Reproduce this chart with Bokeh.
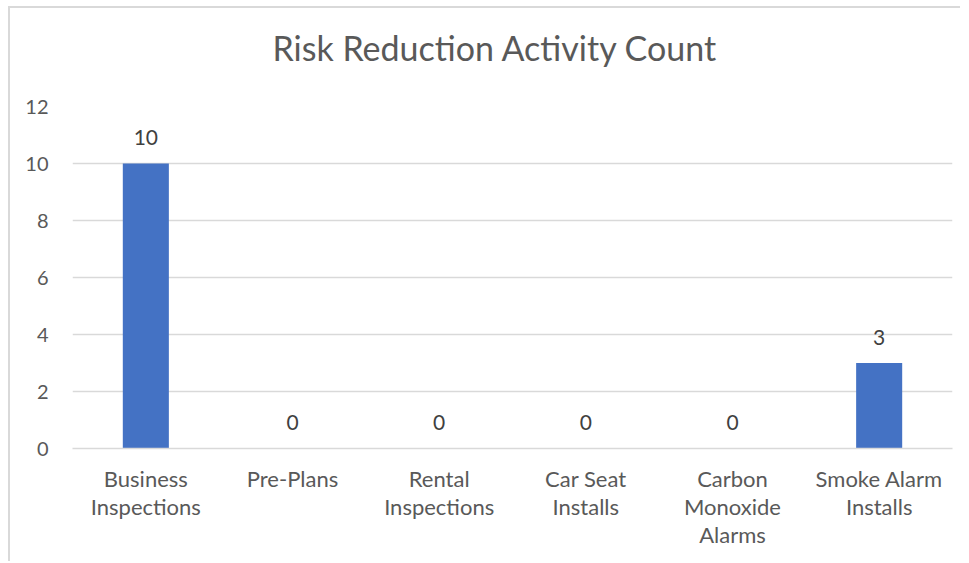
from bokeh.plotting import figure
from bokeh.models import ColumnDataSource, LabelSet, FixedTicker, Range1d, Title
from bokeh.core.properties import value
from bokeh.embed import file_html
from bokeh.resources import INLINE

categories = ["Business\nInspections", "Pre-Plans", "Rental\nInspections",
              "Car Seat\nInstalls", "Carbon\nMonoxide\nAlarms", "Smoke Alarm\nInstalls"]
counts = [10, 0, 0, 0, 0, 3]
y_ticks = [0, 2, 4, 6, 8, 10, 12]
chart_title = "Risk Reduction Activity Count"

FONT = "Lato"
TXT = "#595959"

src = ColumnDataSource(dict(cat=categories, val=counts, lab=[str(v) for v in counts]))

p = figure(x_range=categories, y_range=Range1d(0, 12), width=952, height=555,
           output_backend="svg", toolbar_location=None, title=None,
           min_border_left=62, min_border_right=10, min_border_top=98, min_border_bottom=115)
p.styles = {"border-left": "2px solid #d9d9d9", "border-top": "2px solid #d9d9d9",
            "margin-left": "8px", "margin-top": "6px"}

p.vbar(x="cat", top="val", width=0.314, source=src, color="#4472C4", line_color=None)

labels = LabelSet(x="cat", y="val", text="lab", source=src, y_offset=26,
                  text_align="center", text_baseline="middle",
                  text_font=value(FONT), text_font_size="21px", text_color="#404040")
p.add_layout(labels)

# spacer nearest to the frame, then the real title above it
spacer = Title(text=" ", text_font_size="10px", standoff=10)
p.add_layout(spacer, "above")
main_title = Title(text=chart_title, align="left", offset=200, text_font=FONT,
                   text_font_style="normal", text_font_size="34px",
                   text_color=TXT, standoff=32)
p.add_layout(main_title, "above")

p.outline_line_color = None
p.background_fill_color = "white"
p.border_fill_color = "white"

p.xgrid.grid_line_color = None
p.ygrid.grid_line_color = "#d9d9d9"
p.ygrid.grid_line_width = 1.5
p.yaxis.ticker = FixedTicker(ticks=y_ticks)

p.yaxis.axis_line_color = None
p.yaxis.major_tick_line_color = None
p.yaxis.minor_tick_line_color = None
p.yaxis.major_tick_out = 0
p.yaxis.major_label_standoff = 24
p.yaxis.major_label_text_font = FONT
p.yaxis.major_label_text_font_size = "20px"
p.yaxis.major_label_text_color = TXT

p.xaxis.axis_line_color = "#d9d9d9"
p.xaxis.axis_line_width = 1.5
p.xaxis.major_tick_line_color = None
p.xaxis.minor_tick_line_color = None
p.xaxis.major_tick_out = 0
p.xaxis.major_label_standoff = 16
p.xaxis.major_label_text_font = FONT
p.xaxis.major_label_text_font_size = "22px"
p.xaxis.major_label_text_color = TXT
p.xaxis.major_label_text_line_height = 1.05

p.x_range.range_padding = 0

open("out.html", "w").write(file_html(p, INLINE))
